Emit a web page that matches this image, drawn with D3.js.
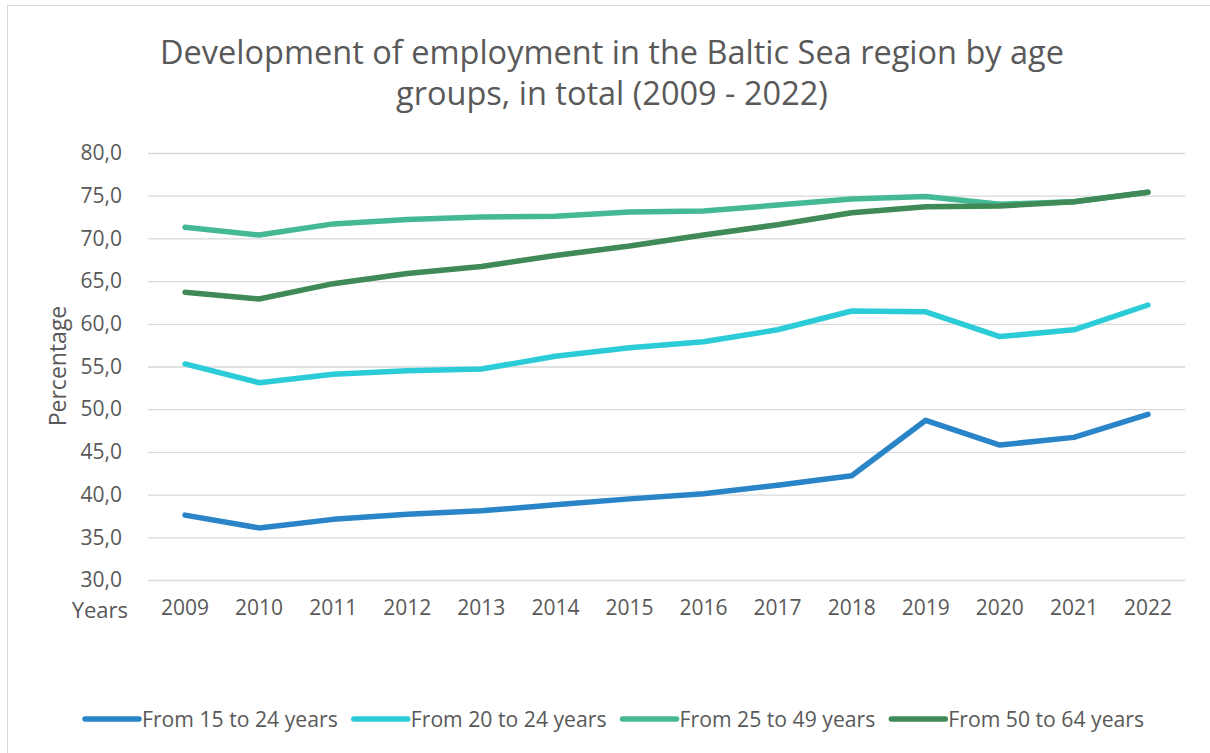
<!DOCTYPE html>
<html>
<head>
<meta charset="utf-8">
<script src="https://cdn.jsdelivr.net/npm/d3@7"></script>
<style>
  html, body { margin: 0; padding: 0; background: #fff; }
  svg text { font-family: "Open Sans", sans-serif; fill: #595959; }
</style>
</head>
<body>
<svg id="chart" width="1210" height="753"></svg>
<script>
const years = ["2009","2010","2011","2012","2013","2014","2015","2016","2017","2018","2019","2020","2021","2022"];
const seriesNames = ["From 15 to 24 years","From 20 to 24 years","From 25 to 49 years","From 50 to 64 years"];
const age15to24 = [37.6, 36.1, 37.1, 37.7, 38.1, 38.8, 39.5, 40.1, 41.1, 42.2, 48.7, 45.8, 46.7, 49.4];
const age20to24 = [55.3, 53.1, 54.1, 54.5, 54.7, 56.2, 57.2, 57.9, 59.3, 61.5, 61.4, 58.5, 59.3, 62.2];
const age25to49 = [71.3, 70.4, 71.7, 72.2, 72.5, 72.6, 73.1, 73.2, 73.9, 74.6, 74.9, 74.0, 74.3, 75.4];
const age50to64 = [63.7, 62.9, 64.7, 65.9, 66.7, 68.0, 69.1, 70.4, 71.6, 73.0, 73.7, 73.8, 74.3, 75.4];
const yTicks = [30, 35, 40, 45, 50, 55, 60, 65, 70, 75, 80];
const colors = ["#2a84c8", "#2bccd8", "#45b995", "#3f8a56"];

const allSeries = [age15to24, age20to24, age25to49, age50to64];
const svg = d3.select("#chart");

// outer border
svg.append("rect").attr("x", 7.5).attr("y", 5.5).attr("width", 1220).attr("height", 760)
  .attr("fill", "none").attr("stroke", "#d9d9d9").attr("stroke-width", 1);

const plotLeft = 148, plotRight = 1185, plotTop = 153, plotBottom = 580;
const x = d3.scaleBand().domain(years).range([plotLeft, plotRight]);
const y = d3.scaleLinear().domain([30, 80]).range([plotBottom, plotTop]);

// title (two lines)
svg.append("text").attr("x", 612).attr("y", 64).attr("text-anchor", "middle")
  .style("font-size", "32.5px").text("Development of employment in the Baltic Sea region by age");
svg.append("text").attr("x", 612).attr("y", 105).attr("text-anchor", "middle")
  .style("font-size", "32.5px").text("groups, in total (2009 - 2022)");

// gridlines + y labels
const yAxis = d3.axisLeft(y).tickValues(yTicks).tickSize(-(plotRight - plotLeft)).tickPadding(26)
  .tickFormat(d => d3.format(".1f")(d).replace(".", ","));
const gy = svg.append("g").attr("transform", `translate(${plotLeft},0)`).call(yAxis);
gy.select(".domain").remove();
gy.selectAll(".tick line").attr("stroke", "#d9d9d9").attr("stroke-width", 1.3);
gy.selectAll(".tick text").style("font-size", "21px").attr("fill", "#595959");

// x axis labels
const xAxis = d3.axisBottom(x).tickSize(0).tickPadding(20);
const gx = svg.append("g").attr("transform", `translate(0,${plotBottom})`).call(xAxis);
gx.select(".domain").remove();
gx.selectAll(".tick text").style("font-size", "21px").attr("fill", "#595959");

// "Years" label
svg.append("text").attr("x", 128).attr("y", 618).attr("text-anchor", "end")
  .style("font-size", "22px").text("Years");

// y-axis title
svg.append("text").attr("transform", "translate(66,366) rotate(-90)").attr("text-anchor", "middle")
  .style("font-size", "23px").text("Percentage");

// lines
const line = d3.line().x((d, i) => x(years[i]) + x.bandwidth() / 2).y(d => y(d));
allSeries.forEach((s, k) => {
  svg.append("path").datum(s).attr("d", line).attr("fill", "none")
    .attr("stroke", colors[k]).attr("stroke-width", 5.5)
    .attr("stroke-linecap", "round").attr("stroke-linejoin", "round");
});

// legend
const legend = svg.append("g");
let lx = 85;
const ly = 719;
seriesNames.forEach((name, k) => {
  legend.append("line").attr("x1", lx).attr("x2", lx + 54).attr("y1", ly).attr("y2", ly)
    .attr("stroke", colors[k]).attr("stroke-width", 5.5).attr("stroke-linecap", "round");
  const t = legend.append("text").attr("x", lx + 57).attr("y", ly + 7.5)
    .style("font-size", "21.2px").text(name);
  const w = t.node().getComputedTextLength();
  lx = lx + 57 + w + 16;
});
</script>
</body>
</html>
